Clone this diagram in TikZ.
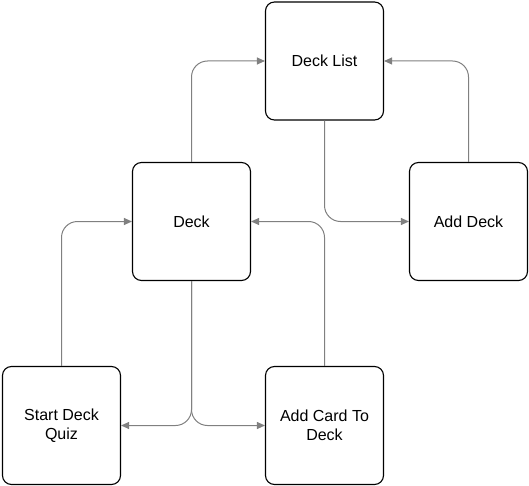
\documentclass[tikz,border=0pt]{standalone}
\usepackage{fontspec}
\setmainfont{Liberation Sans}
\usepackage{xcolor}
\definecolor{LinkGrey}{HTML}{808080}
\usepackage{tikz}
\usetikzlibrary{arrows.meta}

\begin{document}
\begin{tikzpicture}[x=1pt,y=-1pt,
 screen/.style={draw=black,fill=white,rounded corners=9pt,line width=1.1pt,
   minimum width=118pt,minimum height=118pt,align=center,
   font=\fontsize{16}{19.2}\selectfont},
 link/.style={draw=LinkGrey,line width=1pt,rounded corners=16pt,
   -{Triangle[length=8pt,width=7pt]}}]
\useasboundingbox (0,0) rectangle (529,486);
\node[screen] (list) at (324.5,61) {Deck List};
\node[screen] (deck) at (191.5,221.5) {Deck};
\node[screen] (adddeck) at (468.5,221.5) {Add Deck};
\node[screen] (quiz) at (61.5,425.5) {Start Deck\\Quiz};
\node[screen] (addcard) at (324.5,425.5) {Add Card To\\Deck};
% up to the deck list
\draw[link] (deck.north) |- (list.west);
\draw[link] (adddeck.north) |- (list.east);
% the two that meet under the deck list
\draw[link] (list.south) |- (adddeck.west);
\draw[link] (addcard.north) |- (deck.east);
\draw[link] (quiz.north) |- (deck.west);
% out of the deck
\draw[link] (deck.south) |- (quiz.east);
\draw[link] (deck.south) |- (addcard.west);
\end{tikzpicture}
\end{document}
